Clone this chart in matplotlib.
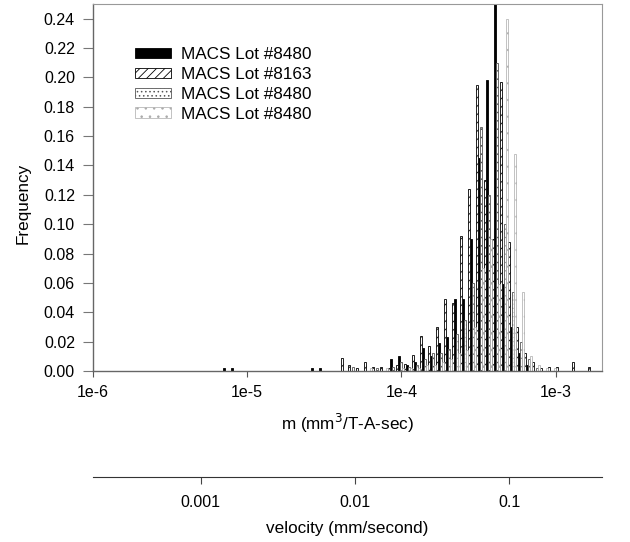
"""
Grouped log-binned histogram of magnetophoretic mobility, with a velocity scale underneath
"""
import matplotlib
matplotlib.use("Agg")
import matplotlib.pyplot as plt
from matplotlib.ticker import FixedLocator, FixedFormatter, NullLocator
import numpy as np

plt.rcParams['font.family'] = ['Liberation Sans', 'DejaVu Sans']
plt.rcParams['hatch.linewidth'] = 0.6

# log10(m) of the first bin and the bin step (decades)
bin_log_start = -5.146
bin_log_step = 0.0518

labels = ["MACS Lot #8480", "MACS Lot #8163", "MACS Lot #8480", "MACS Lot #8480"]

lot_a = [0.002, 0.002, 0, 0, 0, 0, 0, 0, 0, 0, 0, 0.002, 0.002, 0, 0, 0,
         0, 0, 0, 0, 0, 0.008, 0.010, 0.004, 0.006, 0.016, 0.010, 0.019, 0.023, 0.049,
         0.049, 0.090, 0.145, 0.198, 0.300, 0.059, 0.030, 0.012, 0.004, 0, 0, 0, 0, 0,
         0, 0, 0, 0]
lot_b = [0, 0, 0, 0, 0, 0, 0, 0, 0, 0, 0, 0, 0, 0, 0, 0.009,
         0.004, 0.002, 0.006, 0.003, 0.003, 0.002, 0.004, 0.005, 0.011, 0.024, 0.017, 0.030, 0.049, 0.046,
         0.092, 0.124, 0.195, 0.130, 0.090, 0.197, 0.088, 0.030, 0.012, 0.006, 0.002, 0.003, 0.003, 0,
         0.006, 0, 0.003, 0]
lot_c = [0, 0, 0, 0, 0, 0, 0, 0, 0, 0, 0, 0, 0, 0, 0, 0,
         0.003, 0, 0, 0.002, 0, 0.003, 0.006, 0.003, 0.004, 0.008, 0.012, 0.012, 0.015, 0.025,
         0.035, 0.060, 0.166, 0.120, 0.210, 0.100, 0.054, 0.020, 0.008, 0.002, 0, 0, 0, 0,
         0, 0, 0, 0]
lot_d = [0, 0, 0, 0, 0, 0, 0, 0, 0, 0, 0, 0, 0, 0, 0, 0,
         0, 0, 0.002, 0, 0.002, 0, 0.002, 0.002, 0.002, 0.004, 0.004, 0.006, 0.008, 0.012,
         0.014, 0.030, 0.070, 0.090, 0.059, 0.240, 0.148, 0.054, 0.010, 0.004, 0.002, 0.002, 0, 0,
         0, 0, 0, 0]

x_ticks = [1e-6, 1e-5, 1e-4, 1e-3]
x_tick_labels = ["1e-6", "1e-5", "1e-4", "1e-3"]
v_ticks = [0.001, 0.01, 0.1]
v_tick_labels = ["0.001", "0.01", "0.1"]
velocity_factor = 200.0  # mm/second per (mm^3/T-A-sec)

TICK_FS = 11.5
LABEL_FS = 12.3


def log_bars(ax, values, offset, style):
    """Draw one series as narrow bars on a log x axis, offset within each bin."""
    centres = bin_log_start + bin_log_step * (np.arange(len(values)) + offset)
    half = bin_log_step * 0.125
    left = 10 ** (centres - half)
    right = 10 ** (centres + half)
    return ax.bar(left, values, width=right - left, align='edge', **style)


styles = [
    dict(facecolor='black', edgecolor='black', linewidth=0.6),
    dict(facecolor='white', edgecolor='black', linewidth=0.6, hatch='////'),
    dict(facecolor='white', edgecolor='#555555', linewidth=0.6, hatch='....'),
    dict(facecolor='white', edgecolor='#aaaaaa', linewidth=0.5, hatch='..'),
]
order = [lot_a, lot_b, lot_c, lot_d]
offsets = [-0.125, -0.375, 0.125, 0.375]

fig = plt.figure(figsize=(6.3, 5.42), dpi=100)
ax = fig.add_axes([0.1476, 0.3155, 0.8080, 0.6771])

handles = []
for vals, off, st in zip(order, offsets, styles):
    handles.append(log_bars(ax, vals, off, st))

ax.set_xscale('log')
ax.set_xlim(1e-6, 2e-3)
ax.set_ylim(0, 0.25)

ax.xaxis.set_major_locator(FixedLocator(x_ticks))
ax.xaxis.set_major_formatter(FixedFormatter(x_tick_labels))
ax.xaxis.set_minor_locator(NullLocator())
ax.set_yticks(np.arange(0, 0.241, 0.02))
ax.set_yticklabels([f"{t:.2f}" for t in np.arange(0, 0.241, 0.02)])
ax.tick_params(axis='x', labelsize=TICK_FS, direction='out', length=4, width=0.8,
               color='#555555', pad=6)
ax.tick_params(axis='y', labelsize=TICK_FS, direction='out', length=7, width=0.8,
               color='#777777', pad=6)

for side in ['left', 'bottom']:
    ax.spines[side].set_color('#666666')
    ax.spines[side].set_linewidth(1.0)
for side in ['top', 'right']:
    ax.spines[side].set_color('#999999')
    ax.spines[side].set_linewidth(0.8)

ax.set_ylabel("Frequency", fontsize=LABEL_FS)
ax.yaxis.set_label_coords(-0.122, 0.458)
ax.set_xlabel("m (mm$^{3}$/T-A-sec)", fontsize=LABEL_FS, labelpad=9)

sec = ax.secondary_xaxis(-0.289, functions=(lambda m: m * velocity_factor,
                                            lambda v: v / velocity_factor))
sec.xaxis.set_major_locator(FixedLocator(v_ticks))
sec.xaxis.set_major_formatter(FixedFormatter(v_tick_labels))
sec.xaxis.set_minor_locator(NullLocator())
sec.tick_params(labelsize=TICK_FS, direction='out', length=5, width=0.8, color='#444444', pad=8)
sec.spines['bottom'].set_color('#333333')
sec.set_xlabel("velocity (mm/second)", fontsize=LABEL_FS, labelpad=8)

ax.legend(handles, labels, loc='upper left', bbox_to_anchor=(0.083, 0.882), frameon=False,
          fontsize=LABEL_FS, handlelength=2.1, handleheight=0.55, handletextpad=0.58,
          labelspacing=0.28, borderpad=0, borderaxespad=0)

fig.savefig("out.png", dpi=100)
